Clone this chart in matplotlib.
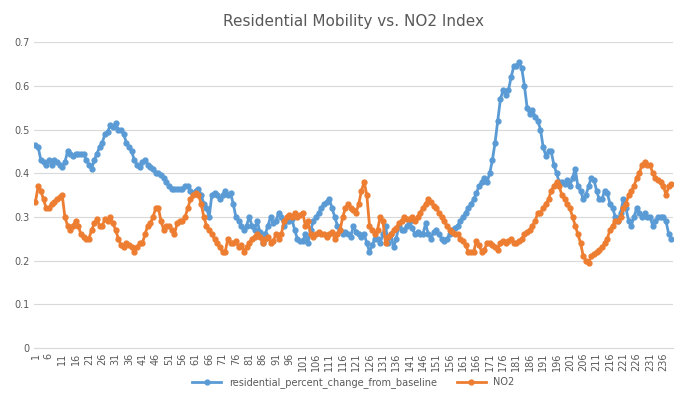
import matplotlib.pyplot as plt
import numpy as np

residential = [
    .465, .46, .43, .425, .42, .43, .42, .43, .425, .42,
    .415, .425, .45, .445, .44, .445, .445, .445, .445, .43,
    .42, .41, .43, .445, .46, .47, .49, .495, .51, .505,
    .515, .50, .50, .49, .47, .46, .45, .43, .42, .415,
    .425, .43, .42, .415, .41, .40, .40, .395, .39, .38,
    .37, .365, .365, .365, .365, .365, .37, .37, .36, .355,
    .36, .365, .35, .33, .32, .30, .35, .355, .35, .34,
    .35, .36, .35, .355, .33, .30, .29, .28, .27, .28,
    .30, .28, .27, .29, .265, .24, .26, .28, .30, .285,
    .29, .31, .30, .28, .29, .29, .295, .27, .25, .245,
    .245, .26, .24, .27, .29, .30, .31, .32, .33, .335,
    .34, .32, .30, .28, .27, .26, .265, .26, .255, .28,
    .265, .26, .255, .26, .24, .22, .235, .25, .25, .24,
    .26, .28, .24, .26, .23, .25, .28, .27, .27, .28,
    .29, .275, .26, .265, .26, .26, .285, .26, .25, .265,
    .27, .26, .25, .245, .25, .26, .27, .275, .28, .29,
    .30, .31, .32, .33, .34, .355, .37, .38, .39, .38,
    .40, .43, .47, .52, .57, .59, .58, .59, .62, .645,
    .645, .655, .64, .60, .55, .535, .545, .53, .52, .50,
    .46, .44, .45, .45, .42, .40, .38, .38, .375, .385,
    .37, .39, .41, .37, .36, .34, .35, .37, .39, .385,
    .36, .34, .34, .36, .355, .33, .32, .30, .29, .31,
    .34, .32, .29, .28, .30, .32, .31, .30, .31, .30,
    .30, .28, .29, .30, .30, .30, .29, .26, .25,
]

no2 = [
    .335, .37, .36, .34, .32, .32, .33, .335, .34, .345,
    .35, .30, .28, .27, .28, .29, .28, .26, .255, .25,
    .25, .27, .285, .295, .28, .28, .295, .29, .30, .285,
    .27, .25, .235, .23, .24, .235, .23, .22, .23, .24,
    .24, .26, .28, .285, .30, .32, .32, .29, .27, .28,
    .28, .27, .26, .285, .29, .29, .30, .32, .34, .35,
    .355, .35, .33, .30, .28, .27, .26, .25, .24, .23,
    .22, .22, .25, .24, .24, .245, .23, .235, .22, .23,
    .24, .25, .255, .26, .255, .24, .25, .255, .24, .245,
    .26, .25, .26, .29, .30, .305, .30, .31, .30, .305,
    .31, .28, .29, .26, .255, .26, .265, .26, .26, .255,
    .26, .265, .25, .26, .27, .30, .32, .33, .32, .315,
    .31, .33, .36, .38, .35, .28, .27, .26, .27, .30,
    .29, .24, .255, .26, .27, .275, .285, .29, .30, .295,
    .295, .30, .29, .30, .31, .32, .33, .34, .335, .325,
    .32, .31, .30, .29, .28, .27, .265, .26, .26, .25,
    .245, .235, .22, .22, .22, .245, .235, .22, .225, .24,
    .24, .235, .23, .225, .24, .245, .24, .245, .25, .24,
    .24, .245, .25, .26, .265, .27, .28, .29, .31, .31,
    .32, .33, .34, .36, .37, .38, .37, .35, .34, .33,
    .32, .30, .28, .26, .24, .21, .20, .195, .21, .215,
    .22, .225, .23, .24, .25, .27, .28, .29, .29, .30,
    .32, .33, .35, .36, .37, .39, .40, .42, .425, .42,
    .42, .40, .39, .385, .38, .37, .35, .37, .375,
]

idx = np.arange(1, len(residential) + 1)
blue, orange = "#5b9bd5", "#ed7d31"

fig, ax = plt.subplots(figsize=(6.83, 4.03), dpi=100)
fig.subplots_adjust(left=0.05, right=0.985, top=0.895, bottom=0.137)

ax.plot(idx, residential, color=blue, lw=2, marker="o", ms=3.5,
        label="residential_percent_change_from_baseline")
ax.plot(idx, no2, color=orange, lw=2, marker="o", ms=3.5, label="NO2")

ax.set_xlim(0.5, len(idx) + 0.5)
ax.set_ylim(0, 0.7)
ax.set_yticks(np.arange(0, 0.71, 0.1))
ax.set_yticklabels(["0"] + [f"{v:.1f}" for v in np.arange(0.1, 0.71, 0.1)])
ax.set_xticks(idx[::5])
ax.tick_params(axis="x", labelrotation=90, labelsize=7, length=0, colors="#595959")
ax.tick_params(axis="y", labelsize=7, length=0, colors="#595959")
ax.grid(axis="y", color="#d9d9d9", lw=0.8)
ax.set_axisbelow(True)
for s in ["top", "right", "left"]:
    ax.spines[s].set_visible(False)
ax.spines["bottom"].set_color("#d9d9d9")

ax.set_title("Residential Mobility vs. NO2 Index", fontsize=11, color="#595959", pad=12)
ax.legend(loc="center", bbox_to_anchor=(0.5, -0.115), ncol=2, frameon=False,
          fontsize=7, labelcolor="#595959", handlelength=3)

fig.savefig("out.png")
